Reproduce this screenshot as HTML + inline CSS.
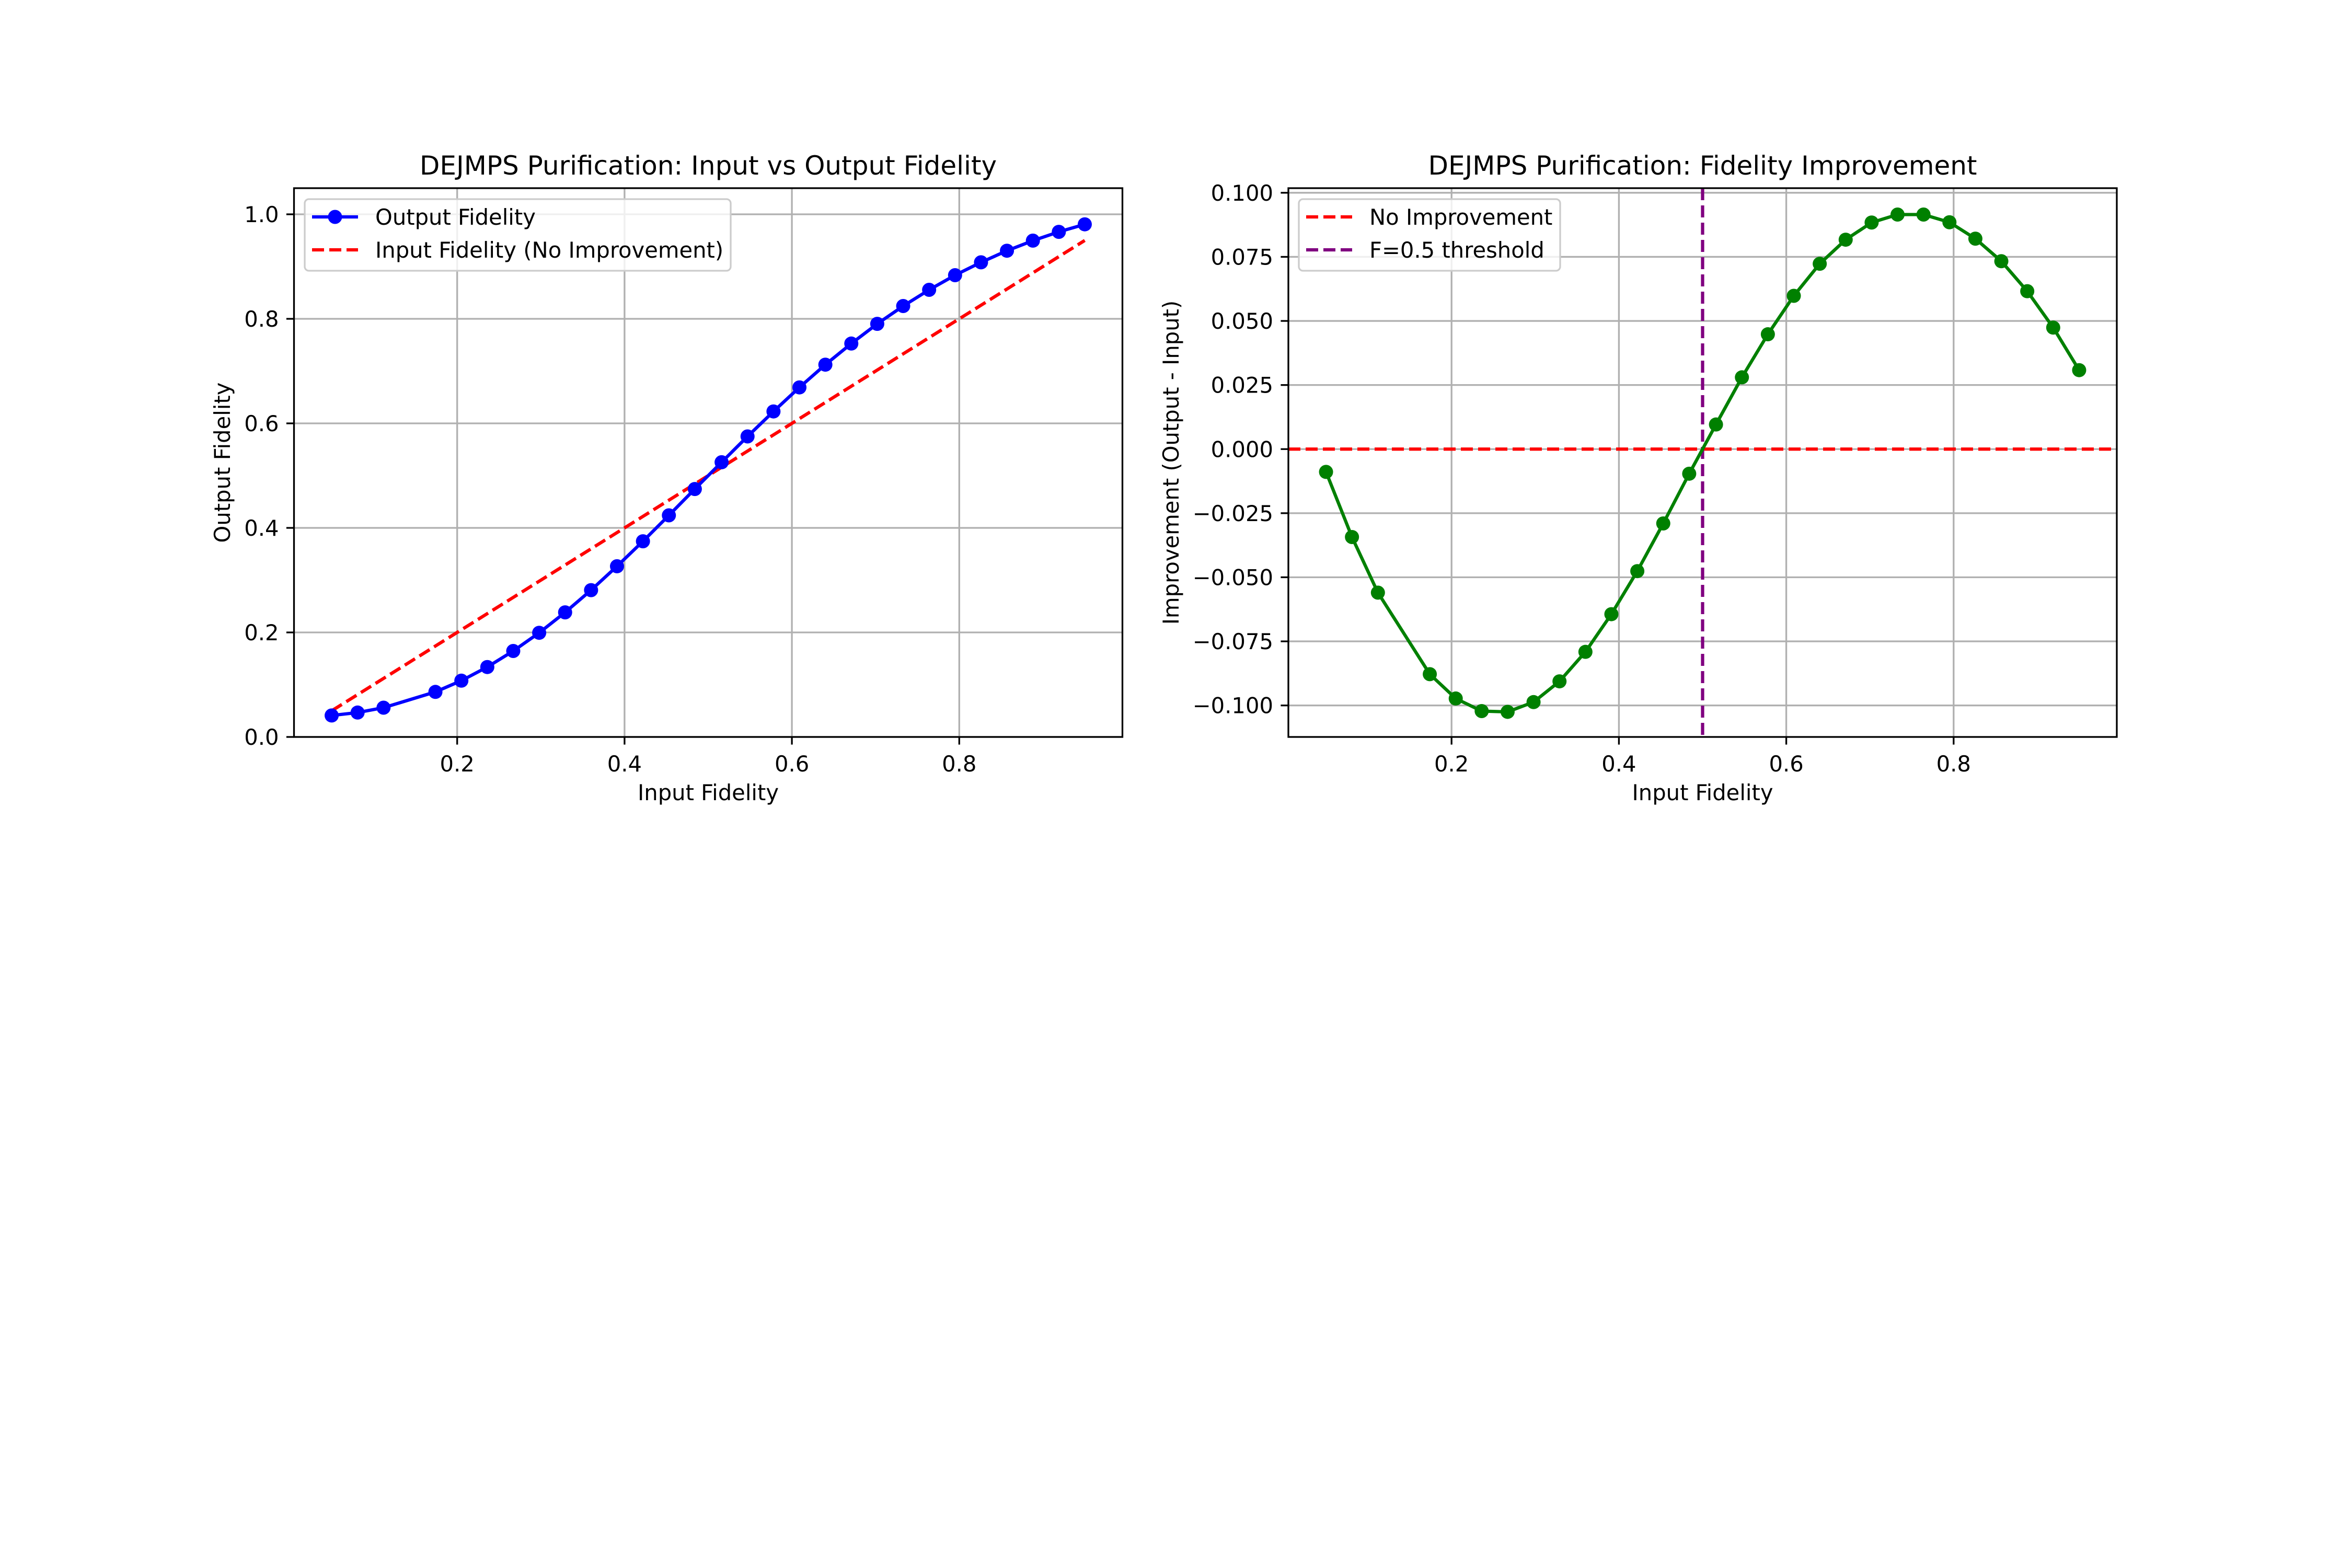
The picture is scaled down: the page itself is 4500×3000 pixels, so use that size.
<!DOCTYPE html>
<html><head><meta charset="utf-8"><style>
html,body{margin:0;padding:0;background:#fff;}
svg{display:block;}
text{font-family:"DejaVu Sans","Liberation Sans",sans-serif;fill:#000;}
</style></head><body>
<svg id="fig" width="4500" height="3000" viewBox="0 0 4500 3000" xmlns="http://www.w3.org/2000/svg">
<rect x="0" y="0" width="4500" height="3000" fill="#fff"/>
<g id="left"></g>
<g id="right"></g>
</svg>
<script>
const inputFidelity = [0.05,0.081,0.112,0.174,0.205,0.236,0.267,0.298,0.329,0.36,0.391,0.422,0.453,0.484,0.516,0.547,0.578,0.609,0.64,0.671,0.702,0.733,0.764,0.795,0.826,0.857,0.888,0.919,0.95];
const outputFidelity = [0.0411,0.0467,0.056,0.0862,0.1077,0.1338,0.1645,0.1993,0.2384,0.2809,0.3266,0.3744,0.424,0.4744,0.5256,0.575,0.6228,0.6688,0.7123,0.7527,0.7904,0.8245,0.8555,0.8835,0.9081,0.9303,0.9496,0.9664,0.9808];
const improvement = [-0.0089,-0.0343,-0.056,-0.0878,-0.0973,-0.1022,-0.1025,-0.0987,-0.0906,-0.0791,-0.0644,-0.0476,-0.029,-0.0096,0.0096,0.028,0.0448,0.0598,0.0723,0.0817,0.0884,0.0915,0.0915,0.0885,0.0821,0.0733,0.0616,0.0474,0.0308];
const xTicks = [0.2,0.4,0.6,0.8];
const xTickLabels = ["0.2","0.4","0.6","0.8"];
const leftYTicks = [0,0.2,0.4,0.6,0.8,1.0];
const leftYTickLabels = ["0.0","0.2","0.4","0.6","0.8","1.0"];
const rightYTicks = [-0.1,-0.075,-0.05,-0.025,0,0.025,0.05,0.075,0.1];
const rightYTickLabels = ["\u22120.100","\u22120.075","\u22120.050","\u22120.025","0.000","0.025","0.050","0.075","0.100"];
const thresholdX = [0.5];
const baselineY = [0];

const NS="http://www.w3.org/2000/svg";
const MR=13.5;
function mk(parent,tag,attrs,txt){const e=document.createElementNS(NS,tag);for(const k in attrs)e.setAttribute(k,attrs[k]);if(txt!==undefined)e.textContent=txt;parent.appendChild(e);return e;}

function drawAxes(g,L,T,W,H,xmin,xmax,ymin,ymax,yTicks,yLabels,title){
  const sx=v=>L+(v-xmin)/(xmax-xmin)*W;
  const sy=v=>T+H-(v-ymin)/(ymax-ymin)*H;
  xTicks.forEach(v=>{const l=mk(g,'line',{x1:sx(v),x2:sx(v),y1:T,y2:T+H,stroke:'#b0b0b0','stroke-width':3.3});
    
    });
  yTicks.forEach(v=>{const l=mk(g,'line',{x1:L,x2:L+W,y1:sy(v),y2:sy(v),stroke:'#b0b0b0','stroke-width':3.3});
    
    });
  xTicks.forEach((v,i)=>{mk(g,'line',{x1:sx(v),x2:sx(v),y1:T+H,y2:T+H+14.6,stroke:'#000','stroke-width':3.3});
    const t=mk(g,'text',{x:sx(v),y:T+H+66,'font-size':41.7,'text-anchor':'middle'},xTickLabels[i]);
    
    });
  yTicks.forEach((v,i)=>{mk(g,'line',{x1:L-14.6,x2:L,y1:sy(v),y2:sy(v),stroke:'#000','stroke-width':3.3});
    const t=mk(g,'text',{x:L-29,y:sy(v)+15,'font-size':41.7,'text-anchor':'end'},yLabels[i]);
    
    });
  const tt=mk(g,'text',{x:L+W/2,y:T-26,'font-size':50,'text-anchor':'middle'},title);
  
  
  const xl=mk(g,'text',{x:L+W/2,y:T+H+121,'font-size':41.7,'text-anchor':'middle'},'Input Fidelity');
  
  
  return {sx,sy};
}
function frame(g,L,T,W,H){const r=mk(g,'rect',{x:L,y:T,width:W,height:H,fill:'none',stroke:'#000','stroke-width':3.3});
  
  }
function legend(g,x,y,w,h,items){
  const box=mk(g,'rect',{x:x,y:y,width:w,height:h,rx:8,fill:'#fff','fill-opacity':0.8,stroke:'#cccccc','stroke-width':3.3});
  
  
  items.forEach((it,i)=>{const cy=y+34+i*63;
    const lg=mk(g,'g',{});
    
    
    mk(lg,'line',{x1:x+14,x2:x+102,y1:cy,y2:cy,stroke:it.c,'stroke-width':6.25,'stroke-dasharray':it.dash||'none'});
    if(it.marker)mk(lg,'circle',{cx:x+58,cy:cy,r:MR,fill:it.c});
    mk(lg,'text',{x:x+135,y:cy+15,'font-size':41.7},it.label);});
}

(function(){
  const g=document.getElementById('left');
  const L=562.5,T=360,W=1585,H=1050;
  const {sx,sy}=drawAxes(g,L,T,W,H,0.005,0.995,0,1.05,leftYTicks,leftYTickLabels,'DEJMPS Purification: Input vs Output Fidelity');
  const yl=mk(g,'text',{x:0,y:0,'font-size':41.7,'text-anchor':'middle',transform:`translate(440,${T+H/2}) rotate(-90)`},'Output Fidelity');
  
  
  const ref=mk(g,'polyline',{points:inputFidelity.map(v=>sx(v)+','+sy(v)).join(' '),fill:'none',stroke:'#ff0000','stroke-width':6.25,'stroke-dasharray':'23,10'});
  
  
  const ln=mk(g,'polyline',{points:inputFidelity.map((v,i)=>sx(v)+','+sy(outputFidelity[i])).join(' '),fill:'none',stroke:'#0000ff','stroke-width':6.25});
  
  
  inputFidelity.forEach((v,i)=>{const c=mk(g,'circle',{cx:sx(v),cy:sy(outputFidelity[i]),r:MR,fill:'#0000ff'});
    
    });
  frame(g,L,T,W,H);
  legend(g,583,381,815,137,[{c:'#0000ff',marker:true,label:'Output Fidelity'},{c:'#ff0000',dash:'23,10',label:'Input Fidelity (No Improvement)'}]);
})();

(function(){
  const g=document.getElementById('right');
  const L=2465,T=360,W=1585,H=1050;
  const {sx,sy}=drawAxes(g,L,T,W,H,0.005,0.995,-0.1123,0.1018,rightYTicks,rightYTickLabels,'DEJMPS Purification: Fidelity Improvement');
  const yl=mk(g,'text',{x:0,y:0,'font-size':41.7,'text-anchor':'middle',transform:`translate(2255,${T+H/2}) rotate(-90)`},'Improvement (Output - Input)');
  
  
  const hl=mk(g,'line',{x1:L,x2:L+W,y1:sy(baselineY[0]),y2:sy(baselineY[0]),stroke:'#ff0000','stroke-width':6.25,'stroke-dasharray':'23,10'});
  
  
  const vl=mk(g,'line',{x1:sx(thresholdX[0]),x2:sx(thresholdX[0]),y1:T,y2:T+H,stroke:'#800080','stroke-width':6.25,'stroke-dasharray':'23,10'});
  
  
  const ln=mk(g,'polyline',{points:inputFidelity.map((v,i)=>sx(v)+','+sy(improvement[i])).join(' '),fill:'none',stroke:'#008000','stroke-width':6.25});
  
  
  inputFidelity.forEach((v,i)=>{const c=mk(g,'circle',{cx:sx(v),cy:sy(improvement[i]),r:MR,fill:'#008000'});
    
    });
  frame(g,L,T,W,H);
  legend(g,2485,381,500,137,[{c:'#ff0000',dash:'23,10',label:'No Improvement'},{c:'#800080',dash:'23,10',label:'F=0.5 threshold'}]);
})();
</script>
</body></html>
